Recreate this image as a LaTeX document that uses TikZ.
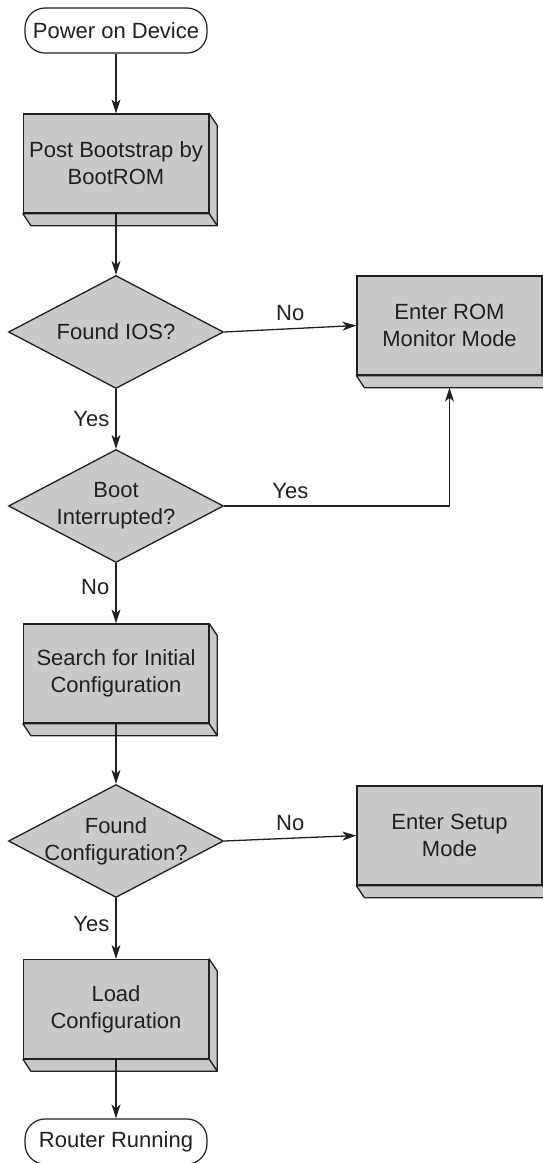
\documentclass[tikz,border=0pt]{standalone}
\usepackage{fontspec}
\setmainfont{Liberation Sans}
\usetikzlibrary{arrows.meta,shapes.geometric,calc}
\definecolor{ink}{RGB}{35,31,32}
\definecolor{boxgray}{RGB}{200,201,203}
\begin{document}
\begin{tikzpicture}[x=1pt,y=-1pt,
  font=\fontsize{22}{27}\selectfont, text=ink,
  term/.style={draw=ink, line width=1.2pt, rounded corners=20pt, minimum width=182pt, minimum height=45pt, inner sep=0pt, fill=white},
  proc/.style={draw=ink, fill=boxgray, line width=1.3pt, minimum width=185pt, minimum height=99pt, align=center, inner sep=0pt},
  dec/.style={diamond, draw=ink, fill=boxgray, line width=1.3pt, minimum width=215pt, minimum height=113pt, align=center, inner xsep=-60pt, inner ysep=-20pt},
  depth/.style={fill=boxgray, draw=ink, line width=1.3pt, line join=round},
  conn/.style={draw=ink, line width=1.3pt, -{Stealth[length=14pt,width=9pt,inset=4pt]}},
  lbl/.style={inner sep=0pt}]
\useasboundingbox (0,0) rectangle (543,1163);
\clip (0,0) rectangle (543,1163);

\node[term] (t1) at (116,30.5) {Power on Device};
\node[proc] (b1) at (116,163.5) {Post Bootstrap by\\BootROM};
\node[dec]  (d1) at (116,332) {Found IOS?};
\node[proc] (rom) at (449.5,325.5) {Enter ROM\\Monitor Mode};
\node[dec]  (d2) at (116,506) {Boot\\Interrupted?};
\node[proc] (b3) at (116,673.5) {Search for Initial\\Configuration};
\node[dec]  (d3) at (116,841) {Found\\Configuration?};
\node[proc] (setup) at (449.5,835.5) {Enter Setup\\Mode};
\node[proc] (b4) at (116,1009) {Load\\Configuration};
\node[term] (t2) at (116,1141.5) {Router Running};

\foreach \n in {b1,rom,b3,setup,b4}{
  \filldraw[depth] (\n.north east) -- ++(8,12) -- ($(\n.south east)+(8,12)$) -- (\n.south east) -- cycle;
  \filldraw[depth] (\n.south west) -- ++(8,12) -- ($(\n.south east)+(8,12)$) -- (\n.south east) -- cycle;
}

\draw[conn] (t1) -- (b1);
\draw[conn] (b1.south) -- (d1.north);
\draw[conn] (d1.east) -- node[lbl, above=7pt] (l1) {No} (rom.west);
\draw[conn] (d1.south) -- node[lbl, left=6pt] (l2) {Yes} (d2.north);
\draw[conn] (d2.east) -| node[lbl, pos=0.147, above=7pt] (l3) {Yes} ([yshift=-12pt]rom.south);
\draw[conn] (d2.south) -- node[lbl, left=6pt, yshift=6pt] (l4) {No} (b3.north);
\draw[conn] (b3.south) -- (d3.north);
\draw[conn] (d3.east) -- node[lbl, above=7pt] (l5) {No} (setup.west);
\draw[conn] (d3.south) -- node[lbl, left=6pt, yshift=4pt] (l6) {Yes} (b4.north);
\draw[conn] (b4.south) -- (t2.north);
\end{tikzpicture}
\end{document}
